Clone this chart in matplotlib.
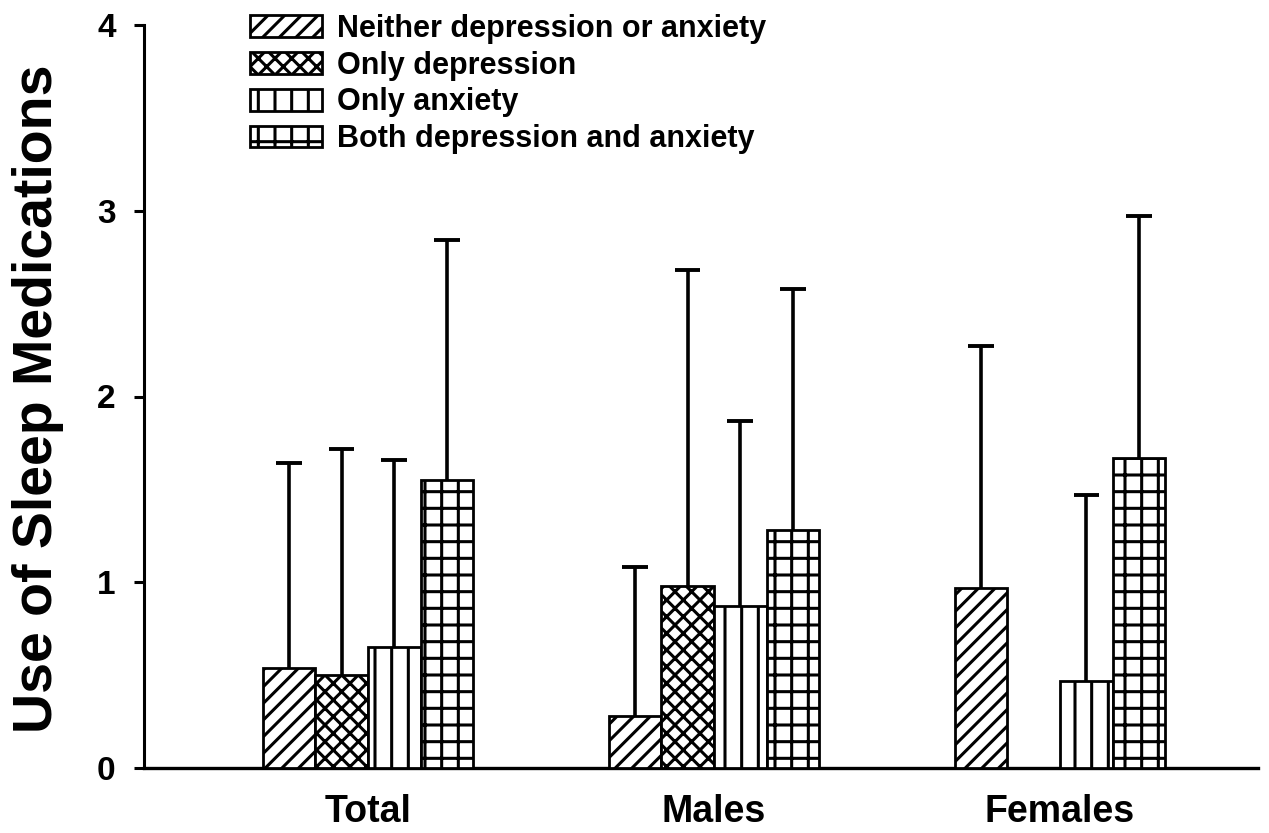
import numpy as np
import matplotlib
matplotlib.use('Agg')
import matplotlib.pyplot as plt

plt.rcParams['font.family'] = ['Liberation Sans', 'DejaVu Sans']
plt.rcParams['font.weight'] = 'bold'
plt.rcParams['hatch.linewidth'] = 2.2
plt.rcParams['hatch.color'] = 'black'

groups = ['Total', 'Males', 'Females']
series = ['Neither depression or anxiety', 'Only depression',
          'Only anxiety', 'Both depression and anxiety']
hatches = ['//', 'xx', '|', '+']

# mean use of sleep medications per group, one list per series
neither_mean = [0.54, 0.28, 0.97]
depression_mean = [0.50, 0.98, np.nan]
anxiety_mean = [0.65, 0.87, 0.47]
both_mean = [1.55, 1.28, 1.67]

# standard deviations (drawn as upper error bars only)
neither_sd = [1.10, 0.80, 1.30]
depression_sd = [1.22, 1.70, np.nan]
anxiety_sd = [1.01, 1.00, 1.00]
both_sd = [1.29, 1.30, 1.30]

means = [neither_mean, depression_mean, anxiety_mean, both_mean]
sds = [neither_sd, depression_sd, anxiety_sd, both_sd]

fig, ax = plt.subplots(figsize=(12.69, 8.33), dpi=100)
fig.subplots_adjust(left=144/1269, right=1258/1269,
                    bottom=1-768/833, top=1-25/833)

x = np.arange(len(groups))
width = 0.152
cap = 0.037
bars = []
for i, (m, s) in enumerate(zip(means, sds)):
    pos = x + (i - 1.5) * width
    b = ax.bar(pos, m, width, facecolor='white', edgecolor='black',
               linewidth=2.0, hatch=hatches[i], label=series[i], zorder=3)
    bars.append(b)
    top = np.array(m) + np.array(s)
    # one-sided error bars: stem from the bar top, cap at mean + SD
    ax.vlines(pos, m, top, color='black', linewidth=2.6, zorder=2)
    ax.hlines(top, pos - cap, pos + cap, color='black', linewidth=2.8,
              zorder=2)

ax.set_xlim(-0.647, 2.572)
ax.set_ylim(0, 4)
ax.set_yticks([0, 1, 2, 3, 4])
ax.set_xticks(x)
ax.set_xticklabels(groups, fontsize=27, fontweight='bold')
ax.tick_params(axis='x', length=0, pad=19)
ax.tick_params(axis='y', direction='out', length=7.5, width=2.2, pad=13,
               labelsize=24)
for lbl in ax.get_yticklabels():
    lbl.set_fontweight('bold')

ax.spines['top'].set_visible(False)
ax.spines['right'].set_visible(False)
ax.spines['left'].set_linewidth(2.2)
ax.spines['bottom'].set_linewidth(2.4)

fig.text(38/1269, 1-399/833, 'Use of Sleep Medications', rotation=90,
         ha='center', va='center', fontsize=40, fontweight='bold')

ax.legend(handles=bars, loc='upper left', frameon=False,
          bbox_to_anchor=(250/1269, 1-14/833), bbox_transform=fig.transFigure,
          borderaxespad=0, borderpad=0, fontsize=22,
          handlelength=2.35, handleheight=0.72, handletextpad=0.5,
          labelspacing=0.22)

fig.savefig('out.png', dpi=100)
